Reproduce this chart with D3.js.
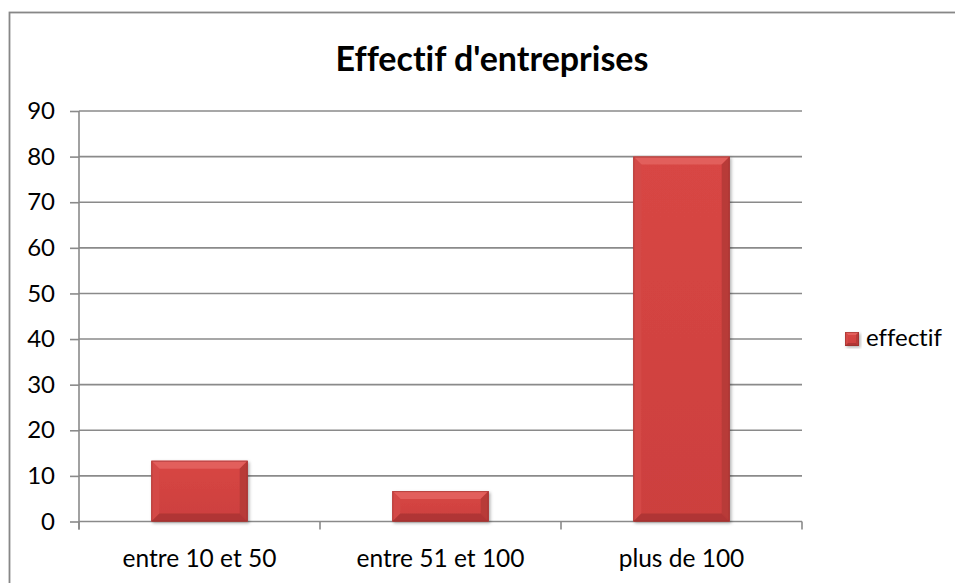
<!DOCTYPE html>
<html>
<head>
<meta charset="utf-8">
<script src="https://cdn.jsdelivr.net/npm/d3@7"></script>
<style>
  html, body { margin: 0; padding: 0; background: #fff; }
  svg { display: block; }
  text { font-family: Lato, "Open Sans", sans-serif; fill: #000; font-variant-ligatures: none; font-feature-settings: "liga" 0, "clig" 0; }
</style>
</head>
<body>
<svg id="chart" width="955" height="583"></svg>
<script>
const titleText = "Effectif d'entreprises";
const categories = ["entre 10 et 50", "entre 51 et 100", "plus de 100"];
const values = [13.33, 6.67, 80];
const seriesName = "effectif";
const yTicks = [0, 10, 20, 30, 40, 50, 60, 70, 80, 90];

const svg = d3.select("#chart");
const plot = { left: 79, right: 802, top: 111, bottom: 521.5 };

// outer chart border
svg.append("rect")
  .attr("x", 9.5).attr("y", 12.5).attr("width", 980).attr("height", 600)
  .attr("fill", "#fff").attr("stroke", "#878787").attr("stroke-width", 1.8);

const x = d3.scaleBand().domain(categories)
  .range([plot.left, plot.right]).paddingInner(0.6).paddingOuter(0.3);
const y = d3.scaleLinear().domain([0, 90]).range([plot.bottom, plot.top]);

// gradients / filters
const defs = svg.append("defs");
const g1 = defs.append("linearGradient").attr("id", "face").attr("x1", 0).attr("y1", 0).attr("x2", 0).attr("y2", 1);
g1.append("stop").attr("offset", "0%").attr("stop-color", "#d84644");
g1.append("stop").attr("offset", "100%").attr("stop-color", "#cc403e");
const filt = defs.append("filter").attr("id", "shadow").attr("x", "-10%").attr("y", "-10%").attr("width", "130%").attr("height", "130%");
filt.append("feDropShadow").attr("dx", 1.5).attr("dy", 1.5).attr("stdDeviation", 1.5).attr("flood-color", "#000").attr("flood-opacity", 0.3);

// gridlines
svg.append("g").selectAll("line").data(yTicks.filter(d => d > 0)).join("line")
  .attr("x1", plot.left).attr("x2", plot.right)
  .attr("y1", d => y(d)).attr("y2", d => y(d))
  .attr("stroke", "#8a8a8a").attr("stroke-width", 1.6);

// y axis
const yAxis = d3.axisLeft(y).tickValues(yTicks).tickSize(9).tickPadding(15).tickSizeOuter(0);
const gy = svg.append("g").attr("transform", `translate(${plot.left},0)`).call(yAxis);
gy.select(".domain").attr("stroke", "#8a8a8a").attr("stroke-width", 1.6)
  .attr("d", `M0,${plot.top}V${plot.bottom + 8}`);
gy.selectAll(".tick line").attr("stroke", "#8a8a8a").attr("stroke-width", 1.6);
gy.selectAll(".tick text").attr("font-size", 24).attr("font-family", "Lato").attr("fill", "#000");

// x axis line and category boundary ticks
const bounds = [plot.left].concat(categories.map(c => x(c) + x.bandwidth() + x.step() * 0.3));
svg.append("line").attr("x1", plot.left).attr("x2", plot.right)
  .attr("y1", plot.bottom).attr("y2", plot.bottom)
  .attr("stroke", "#8a8a8a").attr("stroke-width", 1.6);
svg.append("g").selectAll("line").data(bounds).join("line")
  .attr("x1", d => d).attr("x2", d => d)
  .attr("y1", plot.bottom).attr("y2", plot.bottom + 8)
  .attr("stroke", "#8a8a8a").attr("stroke-width", 1.6);
svg.append("g").selectAll("text").data(categories).join("text")
  .attr("x", d => x(d) + x.bandwidth() / 2).attr("y", 567)
  .attr("text-anchor", "middle").attr("font-size", 24.5)
  .text(d => d);

// bevelled bar drawing
function bevelBar(g, bx, by, bw, bh, b) {
  b = Math.min(b, bw / 2, bh / 2);
  const gg = g.append("g").attr("filter", "url(#shadow)");
  gg.append("rect").attr("x", bx).attr("y", by).attr("width", bw).attr("height", bh).attr("fill", "url(#face)");
  const poly = (pts, fill) => gg.append("polygon").attr("points", pts.map(p => p.join(",")).join(" ")).attr("fill", fill);
  poly([[bx, by], [bx + bw, by], [bx + bw - b, by + b], [bx + b, by + b]], "#e25e5b");
  poly([[bx, by], [bx + b, by + b], [bx + b, by + bh - b], [bx, by + bh]], "#d44a47");
  poly([[bx + bw, by], [bx + bw, by + bh], [bx + bw - b, by + bh - b], [bx + bw - b, by + b]], "#b83a38");
  poly([[bx, by + bh], [bx + b, by + bh - b], [bx + bw - b, by + bh - b], [bx + bw, by + bh]], "#b03634");
  gg.append("rect").attr("x", bx + 0.5).attr("y", by + 0.5).attr("width", bw - 1).attr("height", bh - 1)
    .attr("fill", "none").attr("stroke", "#8e2a28").attr("stroke-width", 1).attr("stroke-opacity", 0.5);
}

const bars = svg.append("g");
categories.forEach((c, i) => {
  bevelBar(bars, x(c), y(values[i]), x.bandwidth(), y(0) - y(values[i]), 8);
});

// legend
const lg = svg.append("g");
bevelBar(lg, 845, 332, 14, 14, 3);
lg.append("text").attr("x", 866).attr("y", 346).attr("font-size", 24).text(seriesName);

// title
svg.append("text").attr("x", 492).attr("y", 71).attr("text-anchor", "middle")
  .attr("font-size", 34).attr("font-weight", "bold").text(titleText);
</script>
</body>
</html>
